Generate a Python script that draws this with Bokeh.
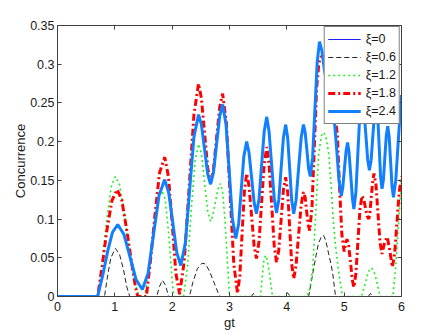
from bokeh.plotting import figure
from bokeh.models import Range1d, FixedTicker, LinearAxis, Legend, LegendItem
from bokeh.embed import file_html
from bokeh.resources import INLINE

# ---------------- data ----------------
x_ticks = [0, 1, 2, 3, 4, 5, 6]
x_tick_labels = ["0", "1", "2", "3", "4", "5", "6"]
y_ticks = [0, 0.05, 0.1, 0.15, 0.2, 0.25, 0.3, 0.35]
y_tick_labels = ["0", "0.05", "0.1", "0.15", "0.2", "0.25", "0.3", "0.35"]

series_labels = ["ξ=0", "ξ=0.6", "ξ=1.2", "ξ=1.8", "ξ=2.4"]

xi00_gt = [0, 6]
xi00_c = [0, 0]

xi06_gt = [0, 0.82, 0.87, 0.93, 1.01, 1.08, 1.15, 1.21, 1.26,
           1.73, 1.78, 1.83, 1.88, 1.94,
           2.30, 2.36, 2.44, 2.52, 2.58, 2.65, 2.73, 2.80, 2.84,
           3.38, 3.42, 3.46, 3.96, 4.01, 4.06,
           4.38, 4.42, 4.47, 4.51, 4.55, 4.60, 4.64, 4.68, 4.73, 4.77, 4.80, 4.85,
           5.42, 5.46, 5.50, 6.0]
xi06_c = [0, 0, 0.025, 0.050, 0.062, 0.055, 0.035, 0.012, 0,
          0, 0.013, 0.021, 0.015, 0,
          0, 0.018, 0.036, 0.043, 0.042, 0.033, 0.018, 0.005, 0,
          0, 0.004, 0, 0, 0.005, 0,
          0, 0.016, 0.037, 0.053, 0.068, 0.077, 0.079, 0.072, 0.055, 0.042, 0.030, 0,
          0, 0.004, 0, 0]

xi12_gt = [0, 0.70,
           0.78, 0.86, 0.94, 1.01,
           1.08, 1.16, 1.25, 1.34, 1.42,
           1.52,
           1.60, 1.68, 1.75, 1.82,
           1.88, 1.94, 2.00, 2.03,
           2.20,
           2.27, 2.33, 2.40, 2.46,
           2.51, 2.565, 2.62, 2.67,
           2.71, 2.755, 2.80, 2.84,
           2.88, 2.92, 2.96, 3.00,
           3.54,
           3.57, 3.60, 3.63, 3.66, 3.70, 3.75,
           4.35,
           4.40, 4.45, 4.50, 4.55, 4.60, 4.64,
           4.68, 4.73, 4.77, 4.81, 4.85, 4.90, 4.97,
           5.30,
           5.36, 5.42, 5.48, 5.54, 5.59, 5.63,
           5.85,
           5.90, 5.95, 6.0]
xi12_c = [0, 0,
          0.045, 0.100, 0.143, 0.155,
          0.145, 0.110, 0.060, 0.020, 0,
          0,
          0.040, 0.090, 0.125, 0.137,
          0.125, 0.080, 0.020, 0,
          0,
          0.040, 0.110, 0.175, 0.197,
          0.185, 0.147, 0.110, 0.097,
          0.105, 0.122, 0.139, 0.146,
          0.135, 0.100, 0.050, 0,
          0,
          0.025, 0.047, 0.053, 0.047, 0.028, 0,
          0,
          0.010, 0.035, 0.100, 0.180, 0.207, 0.212,
          0.207, 0.185, 0.145, 0.098, 0.065, 0.034, 0,
          0,
          0.015, 0.032, 0.037, 0.028, 0.012, 0,
          0,
          0.040, 0.095, 0.150]

xi18_gt = [0, 0.70,
           0.78, 0.86, 0.95, 1.04,
           1.12, 1.21, 1.30, 1.36, 1.40,
           1.55,
           1.62, 1.70, 1.78, 1.87,
           1.935, 2.00, 2.065, 2.13,
           2.21, 2.295, 2.38, 2.46,
           2.51, 2.565, 2.62, 2.67,
           2.72, 2.775, 2.83, 2.88,
           2.945, 3.01, 3.075, 3.14,
           3.18, 3.22, 3.26, 3.30,
           3.34, 3.385, 3.43, 3.47,
           3.515, 3.56, 3.605, 3.65,
           3.69, 3.735, 3.78, 3.82,
           3.86, 3.90, 3.94, 3.98,
           4.015, 4.05, 4.085, 4.12,
           4.16, 4.205, 4.25, 4.29,
           4.32, 4.345, 4.375, 4.40,
           4.44, 4.48, 4.52, 4.56,
           4.60, 4.66, 4.73, 4.80, 4.85,
           4.88, 4.92, 4.96, 5.00, 5.03, 5.05, 5.08, 5.11, 5.14, 5.17,
           5.205, 5.24, 5.275, 5.31,
           5.34, 5.37, 5.40, 5.43,
           5.45, 5.475, 5.50, 5.52,
           5.555, 5.59, 5.625, 5.66,
           5.70, 5.75,
           5.79, 5.84,
           5.88, 5.92, 5.96, 6.0]
xi18_c = [0, 0,
          0.040, 0.085, 0.124, 0.138,
          0.125, 0.085, 0.040, 0.012, 0,
          0,
          0.045, 0.105, 0.160, 0.180,
          0.155, 0.095, 0.030, 0.003,
          0.045, 0.140, 0.235, 0.275,
          0.256, 0.211, 0.166, 0.147,
          0.164, 0.205, 0.245, 0.262,
          0.224, 0.133, 0.042, 0.004,
          0.027, 0.082, 0.136, 0.159,
          0.143, 0.104, 0.065, 0.049,
          0.071, 0.121, 0.171, 0.193,
          0.171, 0.119, 0.066, 0.044,
          0.060, 0.099, 0.138, 0.154,
          0.135, 0.089, 0.042, 0.023,
          0.040, 0.079, 0.118, 0.135,
          0.128, 0.110, 0.092, 0.085,
          0.117, 0.194, 0.270, 0.302,
          0.310, 0.310, 0.290, 0.255, 0.227,
          0.210, 0.140, 0.080, 0.058, 0.070, 0.074, 0.065, 0.045, 0.022, 0.012,
          0.030, 0.071, 0.112, 0.130,
          0.126, 0.115, 0.104, 0.100,
          0.109, 0.130, 0.150, 0.159,
          0.144, 0.107, 0.070, 0.055,
          0.068, 0.077,
          0.062, 0.038,
          0.055, 0.095, 0.135, 0.155]

xi24_gt = [0, 0.70,
           0.79, 0.88, 0.96, 1.05,
           1.16, 1.265, 1.37, 1.48,
           1.58, 1.675, 1.77, 1.87,
           1.94, 2.01, 2.08, 2.15,
           2.23, 2.305, 2.38, 2.46,
           2.51, 2.565, 2.62, 2.67,
           2.72, 2.775, 2.83, 2.88,
           2.94, 2.995, 3.05, 3.11,
           3.16, 3.205, 3.25, 3.30,
           3.34, 3.385, 3.43, 3.47,
           3.515, 3.56, 3.605, 3.65,
           3.69, 3.735, 3.78, 3.82,
           3.86, 3.90, 3.94, 3.98,
           4.015, 4.05, 4.085, 4.12,
           4.16, 4.205, 4.25, 4.29,
           4.32, 4.35, 4.38, 4.41,
           4.45, 4.49, 4.53, 4.57,
           4.61, 4.66, 4.75, 4.82, 4.87, 4.91, 4.95,
           4.975, 5.005, 5.035, 5.06,
           5.085, 5.115, 5.145, 5.17,
           5.205, 5.24, 5.275, 5.31,
           5.34, 5.375, 5.41, 5.44,
           5.47, 5.50, 5.53, 5.56,
           5.585, 5.61, 5.635, 5.66,
           5.685, 5.71, 5.735, 5.76,
           5.785, 5.81, 5.835, 5.86,
           5.90, 5.93, 5.965, 6.0]
xi24_c = [0, 0,
          0.028, 0.060, 0.083, 0.093,
          0.080, 0.051, 0.022, 0.009,
          0.030, 0.080, 0.130, 0.151,
          0.134, 0.096, 0.057, 0.040,
          0.069, 0.138, 0.206, 0.235,
          0.222, 0.190, 0.158, 0.145,
          0.160, 0.197, 0.233, 0.248,
          0.222, 0.162, 0.101, 0.075,
          0.094, 0.138, 0.181, 0.200,
          0.186, 0.154, 0.121, 0.107,
          0.126, 0.170, 0.213, 0.232,
          0.213, 0.170, 0.127, 0.108,
          0.125, 0.165, 0.205, 0.222,
          0.205, 0.165, 0.124, 0.107,
          0.124, 0.165, 0.205, 0.222,
          0.212, 0.189, 0.165, 0.155,
          0.180, 0.242, 0.303, 0.329,
          0.318, 0.290, 0.260, 0.235, 0.190, 0.150, 0.130,
          0.140, 0.165, 0.189, 0.199,
          0.186, 0.156, 0.126, 0.113,
          0.135, 0.187, 0.238, 0.260,
          0.246, 0.212, 0.177, 0.163,
          0.176, 0.207, 0.237, 0.250,
          0.234, 0.195, 0.155, 0.139,
          0.151, 0.180, 0.208, 0.220,
          0.206, 0.174, 0.142, 0.128,
          0.150, 0.185, 0.225, 0.260]

# ---------------- figure ----------------
FONT = "Liberation Sans"
AX = "#404040"

p = figure(width=443, height=333, output_backend="svg", toolbar_location=None,
           x_range=Range1d(0, 6), y_range=Range1d(0, 0.35),
           min_border_left=57, min_border_right=42, min_border_top=25, min_border_bottom=37)
p.grid.visible = False
p.outline_line_color = None
p.background_fill_color = "white"

def style_axis(ax, ticks, tick_labels=None):
    ax.ticker = FixedTicker(ticks=ticks)
    ax.axis_line_color = AX
    ax.major_tick_line_color = AX
    ax.major_tick_in = 4
    ax.major_tick_out = 0
    ax.minor_tick_line_color = None
    ax.major_label_text_font = FONT
    ax.major_label_text_font_size = "12.5px"
    if tick_labels is not None:
        ax.major_label_overrides = dict(zip(ticks, tick_labels))
        ax.major_label_text_color = "#1a1a1a"
    else:
        ax.major_label_overrides = {t: "" for t in ticks}
        ax.major_label_text_color = None
        ax.major_label_standoff = 0

style_axis(p.xaxis[0], x_ticks, x_tick_labels)
p.xaxis[0].major_label_standoff = 5
p.xaxis[0].axis_label = "gt"
p.xaxis[0].axis_label_text_font = FONT
p.xaxis[0].axis_label_text_font_style = "normal"
p.xaxis[0].axis_label_text_font_size = "13px"
p.xaxis[0].axis_label_text_color = "#1a1a1a"
p.xaxis[0].axis_label_standoff = 1

style_axis(p.yaxis[0], y_ticks, y_tick_labels)
p.yaxis[0].major_label_standoff = 3
p.yaxis[0].axis_label = "Concurrence"
p.yaxis[0].axis_label_text_font = FONT
p.yaxis[0].axis_label_text_font_style = "normal"
p.yaxis[0].axis_label_text_font_size = "13px"
p.yaxis[0].axis_label_text_color = "#1a1a1a"
p.yaxis[0].axis_label_standoff = -1

top = LinearAxis()
style_axis(top, x_ticks)
p.add_layout(top, "above")
right = LinearAxis()
style_axis(right, y_ticks)
p.add_layout(right, "right")

r0 = p.line(xi00_gt, xi00_c, line_color="#2020ff", line_width=1)
r1 = p.line(xi06_gt, xi06_c, line_color="#222222", line_width=1, line_dash="5 3")
r2 = p.line(xi12_gt, xi12_c, line_color="#22ee22", line_width=1.6, line_dash="2 3")
r3 = p.line(xi18_gt, xi18_c, line_color="#ff0000", line_width=3, line_dash="7 3 2 3")
r4 = p.line(xi24_gt, xi24_c, line_color="#1080ff", line_width=3)

legend = Legend(items=[LegendItem(label=lab, renderers=[r])
                       for lab, r in zip(series_labels, [r0, r1, r2, r3, r4])],
                location="top_right", margin=1, padding=3, spacing=0,
                label_height=18, glyph_height=18, glyph_width=33, label_standoff=5,
                border_line_color="black", border_line_width=1,
                background_fill_color="white", background_fill_alpha=1,
                label_text_font=FONT, label_text_font_size="12.5px",
                label_text_color="#1a1a1a")
p.add_layout(legend)

open("out.html", "w").write(file_html(p, INLINE))
